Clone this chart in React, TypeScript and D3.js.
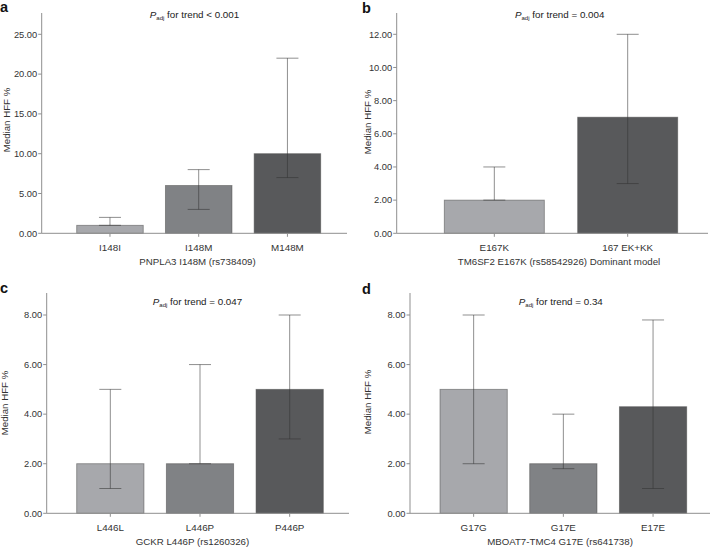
import React from "react";
import * as d3 from "d3";

// ---- Data ----
const catsA = ["I148I", "I148M", "M148M"];
const medA = [1, 6, 10];
const lowA = [1, 3, 7];
const highA = [2, 8, 22];
const ticksA = [0, 5, 10, 15, 20, 25];

const catsB = ["E167K", "167 EK+KK"];
const medB = [2, 7];
const lowB = [2, 3];
const highB = [4, 12];
const ticksB = [0, 2, 4, 6, 8, 10, 12];

const catsC = ["L446L", "L446P", "P446P"];
const medC = [2, 2, 5];
const lowC = [1, 2, 3];
const highC = [5, 6, 8];
const ticksC = [0, 2, 4, 6, 8];

const catsD = ["G17G", "G17E", "E17E"];
const medD = [5, 2, 4.3];
const lowD = [2, 1.8, 1];
const highD = [8, 4, 7.8];
const ticksD = [0, 2, 4, 6, 8];

const titles = ["< 0.001", "= 0.004", "= 0.047", "= 0.34"];
const xTitles = [
  "PNPLA3 I148M (rs738409)",
  "TM6SF2 E167K (rs58542926) Dominant model",
  "GCKR L446P (rs1260326)",
  "MBOAT7-TMC4 G17E (rs641738)",
];
const letters = ["a", "b", "c", "d"];

const LIGHT = "#a7a8ac";
const MID = "#808285";
const DARK = "#58595b";

// ---- Layout ----
const layouts = [
  { axisX: 41.7, right: 347, top: 13, bottom: 233.3, maxTickY: 34.3, band: [76.7, 320.7], titleX: 194.5, titleY: 18, xTitleX: 197.5, yLabX: 9.5, yLabY: 120, letterX: 0, letterY: 12, colors: [LIGHT, MID, DARK] },
  { axisX: 396.7, right: 708, top: 13, bottom: 233.3, maxTickY: 34.3, band: [444.3, 677.7], titleX: 559.7, titleY: 18, xTitleX: 559, yLabX: 371, yLabY: 122, letterX: 362, letterY: 12.5, colors: [LIGHT, DARK] },
  { axisX: 46.7, right: 349, top: 293, bottom: 513.3, maxTickY: 315, band: [76.7, 323.3], titleX: 197.5, titleY: 305, xTitleX: 192.5, yLabX: 8, yLabY: 403, letterX: 0, letterY: 293, colors: [LIGHT, MID, DARK] },
  { axisX: 410, right: 710, top: 293, bottom: 513.3, maxTickY: 315, band: [440, 686.7], titleX: 560.8, titleY: 305, xTitleX: 560, yLabX: 371, yLabY: 402, letterX: 362, letterY: 294, colors: [LIGHT, MID, DARK] },
];

const panelsData = [
  { cats: catsA, med: medA, low: lowA, high: highA, ticks: ticksA },
  { cats: catsB, med: medB, low: lowB, high: highB, ticks: ticksB },
  { cats: catsC, med: medC, low: lowC, high: highC, ticks: ticksC },
  { cats: catsD, med: medD, low: lowD, high: highD, ticks: ticksD },
];

const FONT = "'Liberation Sans', Arial, Helvetica, sans-serif";
const AXIS = "#8f8f8f";
const fmt = d3.format(".2f");

function Panel({ idx }: { idx: number }) {
  const L = layouts[idx];
  const D = panelsData[idx];
  const maxTick = D.ticks[D.ticks.length - 1];
  const y = d3.scaleLinear().domain([0, maxTick]).range([L.bottom, L.maxTickY]);
  const x = d3
    .scaleBand<string>()
    .domain(D.cats)
    .range(L.band as [number, number])
    .paddingInner(0.25)
    .paddingOuter(0);
  const bw = x.bandwidth();
  const cap = 11;
  return (
    <g>
      <text x={L.letterX} y={L.letterY} fontSize={14.5} fontWeight="bold" fontFamily={FONT} fill="#111">
        {letters[idx]}
      </text>
      <text x={L.titleX} y={L.titleY} textAnchor="middle" fontSize={9.8} fontFamily={FONT} fill="#222">
        <tspan fontStyle="italic">P</tspan>
        <tspan fontSize={6} dy={2}>adj</tspan>
        <tspan dy={-2}>{" for trend " + titles[idx]}</tspan>
      </text>
      {/* bars */}
      {D.cats.map((c, i) => (
        <rect
          key={c}
          x={x(c)!}
          y={y(D.med[i])}
          width={bw}
          height={y(0) - y(D.med[i])}
          fill={L.colors[i]}
          stroke="#4a4a4a"
          strokeOpacity={0.55}
          strokeWidth={0.9}
        />
      ))}
      {/* error bars */}
      {D.cats.map((c, i) => {
        const cx = x(c)! + bw / 2;
        return (
          <g key={"e" + c} stroke="#333" strokeOpacity={0.55} strokeWidth={1}>
            <line x1={cx} x2={cx} y1={y(D.low[i])} y2={y(D.high[i])} />
            <line x1={cx - cap} x2={cx + cap} y1={y(D.high[i])} y2={y(D.high[i])} />
            <line x1={cx - cap} x2={cx + cap} y1={y(D.low[i])} y2={y(D.low[i])} />
          </g>
        );
      })}
      {/* y axis */}
      <line x1={L.axisX} x2={L.axisX} y1={L.top} y2={L.bottom} stroke={AXIS} strokeWidth={1} />
      {D.ticks.map((t) => (
        <g key={"t" + t}>
          <line x1={L.axisX - 3.5} x2={L.axisX} y1={y(t)} y2={y(t)} stroke={AXIS} strokeWidth={1} />
          <text x={L.axisX - 4.5} y={y(t)} dy="0.35em" textAnchor="end" fontSize={9.3} fontFamily={FONT} fill="#333">
            {fmt(t)}
          </text>
        </g>
      ))}
      {/* x axis */}
      <line x1={L.axisX} x2={L.right} y1={L.bottom} y2={L.bottom} stroke={AXIS} strokeWidth={1} />
      {D.cats.map((c) => {
        const cx = x(c)! + bw / 2;
        return (
          <g key={"x" + c}>
            <line x1={cx} x2={cx} y1={L.bottom} y2={L.bottom + 3.5} stroke={AXIS} strokeWidth={1} />
            <text x={cx} y={L.bottom + 18} textAnchor="middle" fontSize={9.8} fontFamily={FONT} fill="#333">
              {c}
            </text>
          </g>
        );
      })}
      <text x={L.xTitleX} y={L.bottom + 32} textAnchor="middle" fontSize={9.7} fontFamily={FONT} fill="#333">
        {xTitles[idx]}
      </text>
      <text
        transform={`translate(${L.yLabX},${L.yLabY}) rotate(-90)`}
        textAnchor="middle"
        fontSize={9.7}
        fontFamily={FONT}
        fill="#333"
      >
        Median HFF %
      </text>
    </g>
  );
}

export default function App() {
  return (
    <svg width={713} height={549} style={{ display: "block", position: "absolute", left: 0, top: 0, background: "#fff" }}>
      <rect width={713} height={549} fill="#fff" />
      {[0, 1, 2, 3].map((i) => (
        <Panel key={i} idx={i} />
      ))}
    </svg>
  );
}
